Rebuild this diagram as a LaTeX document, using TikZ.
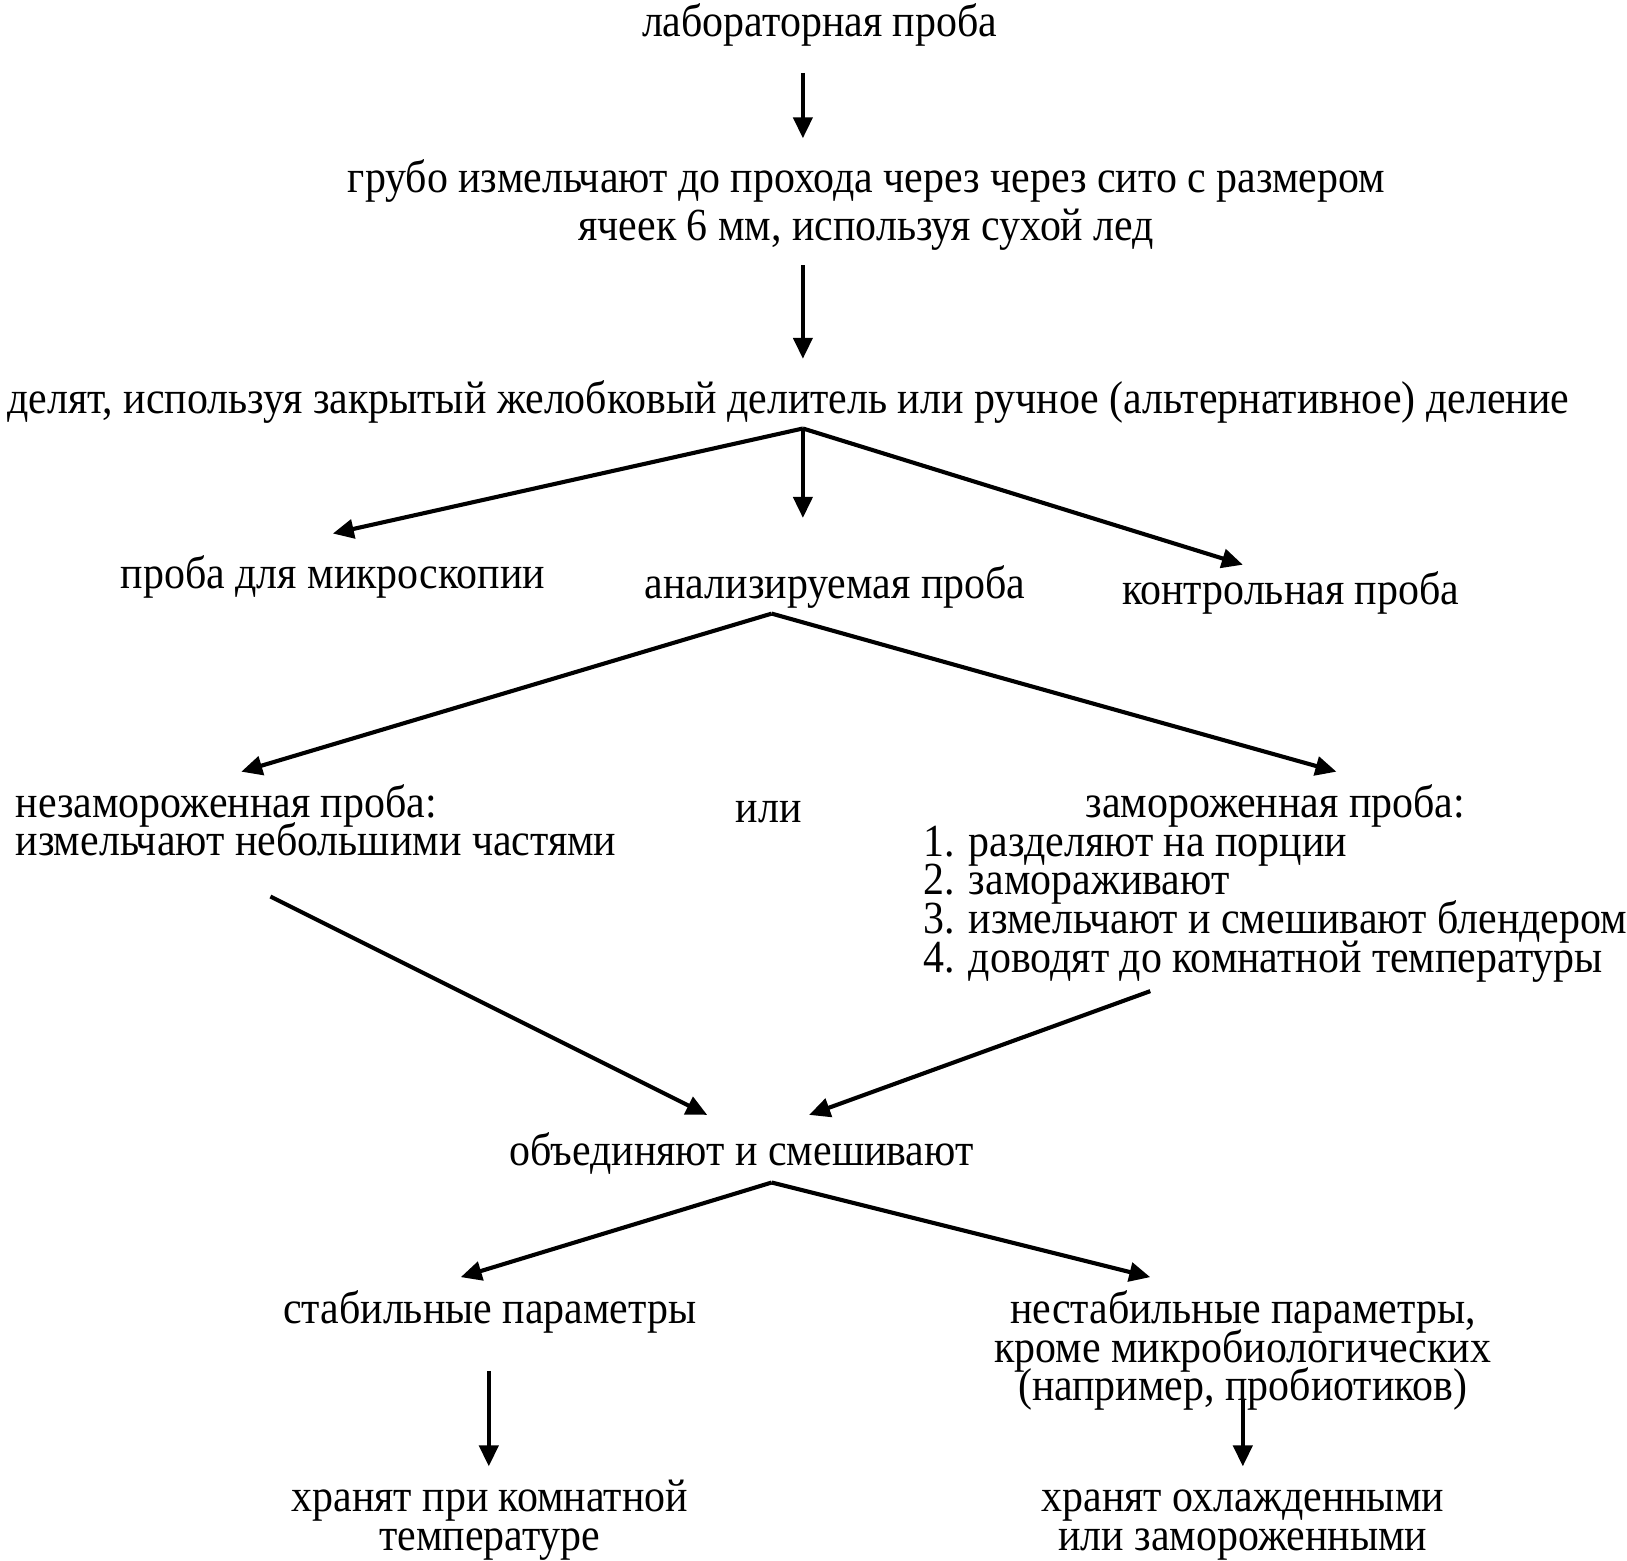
\documentclass[tikz,border=0pt]{standalone}
\usepackage{fontspec}
\usepackage{calc}
\setmainfont{Liberation Serif}[FakeStretch=0.911]
\usetikzlibrary{arrows.meta}
\newcommand{\reffont}[1]{\fontsize{46}{#1}\selectfont\lineskiplimit=-\maxdimen}
\tikzset{
  txt/.style={inner sep=0pt, outer sep=0pt, anchor=base, align=center,
    font=\reffont{38.8}},
  txtl/.style={txt, anchor=base west, align=left},
  arr/.style={line width=4.1pt, -{Triangle[length=21pt,width=19pt]}}
}
\begin{document}
\begin{tikzpicture}[x=1.04pt,y=-1.04pt]
\useasboundingbox (0,0) rectangle (1564.4,1500);
% texts (base = baseline of last line)
\node[txt] (t1) at (788,35.5) {лабораторная проба};
\node[txt, font=\reffont{47.8}] (t2) at (833,231) {грубо измельчают до прохода через через сито с размером\\ячеек 6 мм, используя сухой лед};
\node[txt] (t3) at (758,398) {делят, используя закрытый желобковый делитель или ручное (альтернативное) деление};
\node[txt] (micro) at (320,566) {проба для микроскопии};
\node[txt] (anal) at (803,575) {анализируемая проба};
\node[txt] (ctrl) at (1241,581) {контрольная проба};
\node[txtl] (unfr) at (15,823) {незамороженная проба:\\измельчают небольшими частями};
\node[txt] (ili) at (739,791) {или};
\node[txtl] (frz) at (888,935) {\makebox[\widthof{3. измельчают и смешивают блендером}][c]{замороженная проба:}\\
1. разделяют на порции\\
2. замораживают\\
3. измельчают и смешивают блендером\\
4. доводят до комнатной температуры};
\node[txt] (mix) at (713,1121) {объединяют и смешивают};
\node[txt] (stab) at (471,1273) {стабильные параметры};
\node[txt] (unst) at (1195,1347) {нестабильные параметры,\\кроме микробиологических\\(например, пробиотиков)};
\node[txt] (room) at (471,1491) {хранят при комнатной\\температуре};
\node[txt] (cold) at (1195,1491) {хранят охлажденными\\или замороженными};
% connector points
\coordinate (a1s) at (772,70);   \coordinate (a1e) at (772,133);
\coordinate (a2s) at (772,255);  \coordinate (a2e) at (772,345);
\coordinate (p3) at (772,412);
\coordinate (e3l) at (320,513); \coordinate (e3m) at (772,498); \coordinate (e3r) at (1195,543);
\coordinate (p4) at (742,590);
\coordinate (e4l) at (232,742); \coordinate (e4r) at (1285,742);
\coordinate (s5) at (260,862); \coordinate (e5) at (680,1072);
\coordinate (s6) at (1106,953); \coordinate (e6) at (778,1072);
\coordinate (p7) at (742,1137);
\coordinate (e7l) at (443,1228); \coordinate (e7r) at (1106,1228);
\coordinate (s8) at (470,1318); \coordinate (e8) at (470,1410);
\coordinate (s9) at (1195,1345); \coordinate (e9) at (1195,1410);
% connectors
\draw[arr] (a1s) -- (a1e);
\draw[arr] (a2s) -- (a2e);
\draw[arr] (p3) -- (e3l);
\draw[arr] (p3) -- (e3m);
\draw[arr] (p3) -- (e3r);
\draw[arr] (p4) -- (e4l);
\draw[arr] (p4) -- (e4r);
\draw[arr] (s5) -- (e5);
\draw[arr] (s6) -- (e6);
\draw[arr] (p7) -- (e7l);
\draw[arr] (p7) -- (e7r);
\draw[arr] (s8) -- (e8);
\draw[arr] (s9) -- (e9);
\end{tikzpicture}
\end{document}
